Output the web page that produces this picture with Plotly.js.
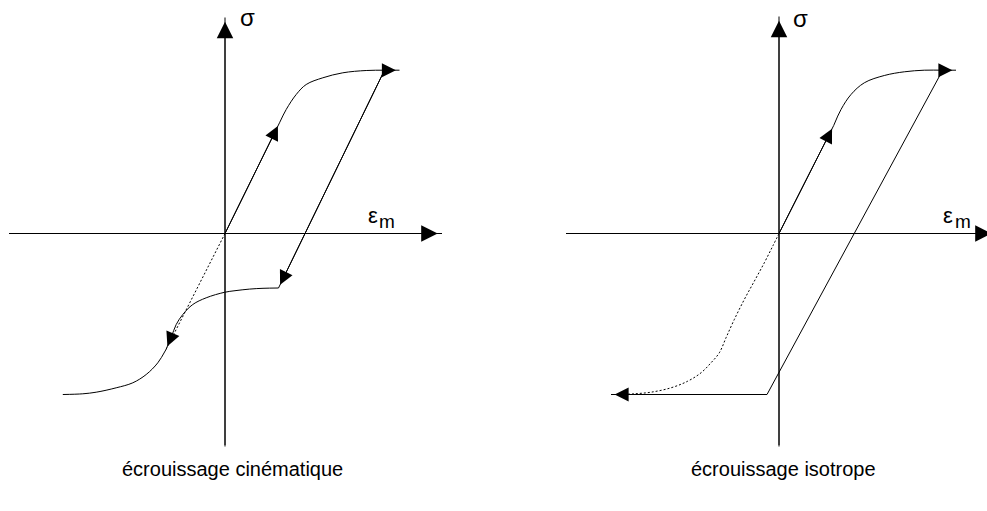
<!DOCTYPE html>
<html>
<head>
<meta charset="utf-8">
<script src="https://cdn.plot.ly/plotly-3.0.1.min.js"></script>
<style>
  html, body { margin: 0; padding: 0; background: #fff; }
  #chart { width: 987px; height: 511px; }
</style>
</head>
<body>
<div id="chart"></div>
<script>
// Two strain (ε_m) / stress (σ) sketches of a load–unload cycle.
// Coordinates: one unit = one screen pixel, origin where the two axes cross.

// ---- écrouissage cinématique (left sketch) ----
const kinAxisHX = [-216, 217], kinAxisHY = [0, 0];
const kinAxisVX = [0, 0],      kinAxisVY = [-213, 216];
const kinLoadX = [0, 54.5],    kinLoadY = [0, 110.7];
const kinHardenX = [54.5, 61.2, 71.2, 81.2, 97.8, 117.8, 141.2, 159.5, 174.5];
const kinHardenY = [110.7, 124, 139, 149, 155.7, 160.7, 163, 163.3, 163.3];
const kinUnloadX = [159.5, 53.5], kinUnloadY = [163.3, -54.5];
const kinReverseX = [53.5, 38, 24.5, 10, -0.5, -18.8, -32.2, -42.2, -48.8, -53.5, -59];
const kinReverseY = [-54.5, -54.8, -55.6, -57.2, -58.8, -64.3, -71, -81, -91, -103, -116];
const kinTailX = [-59, -67.2, -78.8, -92.2, -108.8, -128.8, -142.2, -162.2];
const kinTailY = [-116, -129.3, -141, -149.3, -154.3, -158.7, -160.3, -161];
const kinElasticX = [0, -59], kinElasticY = [0, -116];

// ---- écrouissage isotrope (right sketch) ----
const isoAxisHX = [-213, 217], isoAxisHY = [0, 0];
const isoAxisVX = [0, 0],      isoAxisVY = [-213, 217];
const isoLoadX = [0, 54.7],    isoLoadY = [0, 108];
const isoHardenX = [54.7, 62, 72, 85.3, 105.3, 125.3, 145.3, 163.7, 177];
const isoHardenY = [108, 124, 139, 150.7, 158, 161.7, 163.3, 163.3, 163.3];
const isoUnloadX = [163.7, -12, -168], isoUnloadY = [163.3, -161, -161];
const isoElasticX = [0, -6.3, -14.7, -24.7, -34.7, -44.7, -53, -59.7, -68, -78, -91.3, -108, -128, -144.7, -156];
const isoElasticY = [0, -12.7, -29.3, -47.7, -66, -86, -104.3, -119.3, -129.3, -139.3, -147.7, -154.3, -158.7, -160.3, -161];

// ---- texts ----
const sketchTitles = ['écrouissage cinématique', 'écrouissage isotrope'];
const stressLabel = 'σ';
const strainLabel = 'ε';
const strainSub = 'm';

const INK = '#000';
const FONT = 'Liberation Sans, Arial, sans-serif';

function path(xs, ys, xa, opts) {
  opts = opts || {};
  return {
    x: xs, y: ys, xaxis: xa, yaxis: 'y',
    mode: 'lines', hoverinfo: 'skip', showlegend: false,
    line: {
      color: INK, width: 1,
      shape: opts.smooth ? 'spline' : 'linear',
      smoothing: opts.smooth ? 1 : undefined,
      dash: opts.dash || 'solid'
    }
  };
}

// Filled arrowhead at the last point of a polyline, aimed along its last segment.
function head(xs, ys, xa, size) {
  const n = xs.length;
  return {
    xref: xa, yref: 'y', axref: xa, ayref: 'y',
    x: xs[n - 1], y: ys[n - 1], ax: xs[n - 2], ay: ys[n - 2],
    text: '', showarrow: true, arrowhead: 2, arrowside: 'end',
    arrowsize: size, arrowwidth: 1, arrowcolor: INK,
    standoff: 1.3 * size
  };
}

function label(text, xa, x, y, size) {
  return {
    xref: xa, yref: 'y', x: x, y: y, text: text, showarrow: false,
    xanchor: 'center', yanchor: 'middle',
    font: { family: FONT, size: size, color: INK }
  };
}

const dotted = '2px,2px';

const traces = [
  path(kinAxisHX, kinAxisHY, 'x'),
  path(kinAxisVX, kinAxisVY, 'x'),
  path(kinLoadX, kinLoadY, 'x'),
  path(kinHardenX, kinHardenY, 'x', { smooth: true }),
  path(kinUnloadX, kinUnloadY, 'x'),
  path(kinReverseX, kinReverseY, 'x', { smooth: true }),
  path(kinTailX, kinTailY, 'x', { smooth: true }),
  path(kinElasticX, kinElasticY, 'x', { dash: dotted }),

  path(isoAxisHX, isoAxisHY, 'x2'),
  path(isoAxisVX, isoAxisVY, 'x2'),
  path(isoLoadX, isoLoadY, 'x2'),
  path(isoHardenX, isoHardenY, 'x2', { smooth: true }),
  path(isoUnloadX, isoUnloadY, 'x2'),
  path(isoElasticX, isoElasticY, 'x2', { smooth: true, dash: dotted })
];

const annotations = [
  head(kinAxisHX, kinAxisHY, 'x', 3.3),
  head(kinAxisVX, kinAxisVY, 'x', 3.3),
  head(kinLoadX, kinLoadY, 'x', 2.8),
  head(kinHardenX, kinHardenY, 'x', 2.8),
  head(kinUnloadX, kinUnloadY, 'x', 2.8),
  head(kinReverseX, kinReverseY, 'x', 2.8),

  head(isoAxisHX, isoAxisHY, 'x2', 3.3),
  head(isoAxisVX, isoAxisVY, 'x2', 3.3),
  head(isoLoadX, isoLoadY, 'x2', 2.8),
  head(isoHardenX, isoHardenY, 'x2', 2.8),
  head(isoUnloadX, isoUnloadY, 'x2', 2.8),

  label(stressLabel, 'x', 22.5, 216, 24),
  label(strainLabel, 'x', 147.5, 18, 22),
  label(strainSub, 'x', 161.5, 12, 19),
  label(sketchTitles[0], 'x', 7, -235, 20),

  label(stressLabel, 'x2', 21.5, 215, 24),
  label(strainLabel, 'x2', 169.3, 18, 22),
  label(strainSub, 'x2', 183.5, 12, 19),
  label(sketchTitles[1], 'x2', 4, -235, 20)
];

const hidden = { visible: false, fixedrange: true, showgrid: false, zeroline: false };

const layout = {
  width: 987, height: 511,
  margin: { l: 0, r: 0, t: 0, b: 0, pad: 0 },
  paper_bgcolor: '#fff', plot_bgcolor: '#fff',
  showlegend: false,
  xaxis:  Object.assign({ domain: [0, 0.5], range: [-225, 268.5] }, hidden),
  xaxis2: Object.assign({ domain: [0.5, 1], range: [-285.5, 208], anchor: 'y' }, hidden),
  yaxis:  Object.assign({ domain: [0, 1], range: [-277.5, 233.5] }, hidden),
  annotations: annotations
};

Plotly.newPlot('chart', traces, layout, { staticPlot: true, displayModeBar: false });
</script>
</body>
</html>
